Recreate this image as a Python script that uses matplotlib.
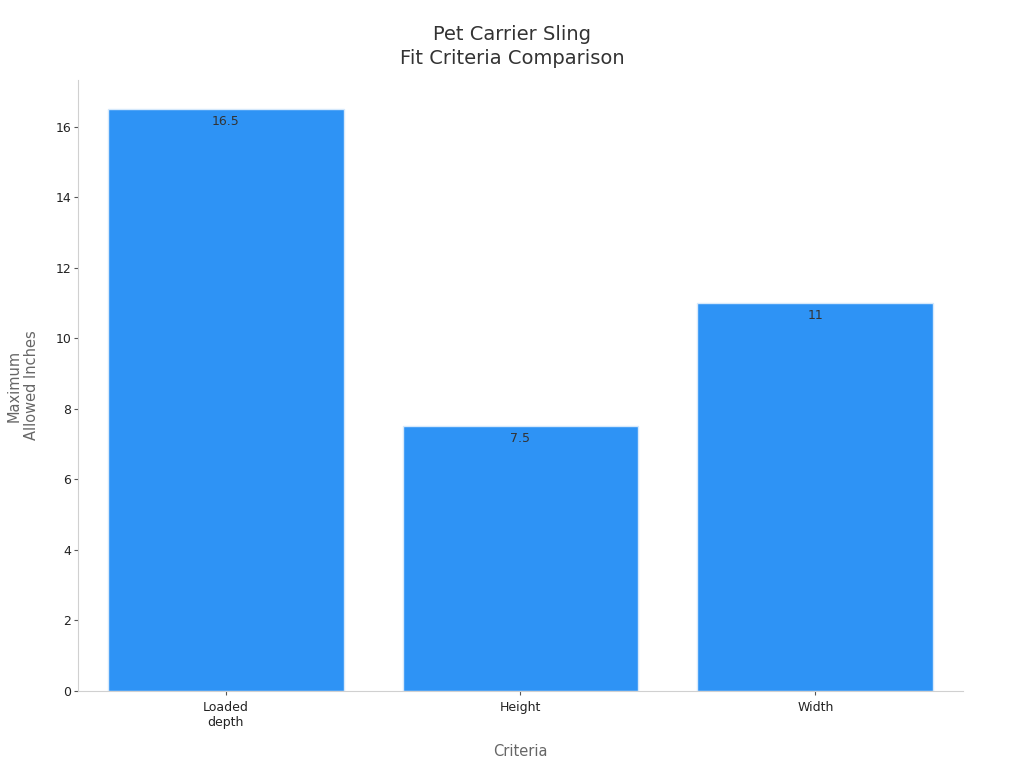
import matplotlib
matplotlib.use("Agg")
import matplotlib.pyplot as plt

categories = ["Loaded\ndepth", "Height", "Width"]
values = [16.5, 7.5, 11]
value_labels = ["16.5", "7.5", "11"]

plt.rcParams["font.family"] = "DejaVu Sans"

fig = plt.figure(figsize=(10.24, 7.68), dpi=100)
ax = fig.add_axes([0.0762, 0.1003, 0.8642, 0.7955])

x = range(len(categories))
bars = ax.bar(x, values, width=0.8, color="#2e93f5", edgecolor="#d6e9fb", linewidth=1)

# value labels just inside the top of each bar
for b, lab in zip(bars, value_labels):
    ax.annotate(lab, (b.get_x() + b.get_width() / 2, b.get_height()),
                xytext=(0, -4), textcoords="offset points",
                ha="center", va="top", fontsize=9, color="#333333")

ax.set_xlim(-0.5, len(categories) - 0.5)
ax.set_ylim(0, max(values) * 1.05)
ax.set_yticks(range(0, 17, 2))
ax.set_xticks(list(x))
ax.set_xticklabels(categories)
ax.tick_params(labelsize=9, colors="#222222", length=3, pad=2, color="#555555")
ax.tick_params(axis="x", pad=4)

for s in ["top", "right"]:
    ax.spines[s].set_visible(False)
for s in ["left", "bottom"]:
    ax.spines[s].set_color("#d0d0d0")

ax.set_xlabel("Criteria", fontsize=10.5, color="#666666", labelpad=11)
ax.set_ylabel("Maximum\nAllowed Inches", fontsize=10.5, color="#666666", labelpad=12)
fig.text(0.5, 0.967, "Pet Carrier Sling\nFit Criteria Comparison", fontsize=14,
         color="#333333", ha="center", va="top", linespacing=1.3)

fig.savefig("out.png", dpi=100)
